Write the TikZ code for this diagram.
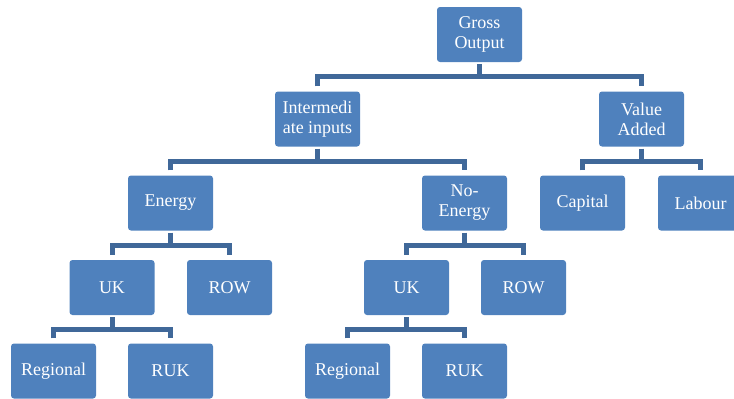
\documentclass[tikz,border=0pt]{standalone}
\usepackage{fontspec}
\setmainfont{Liberation Serif}
\usetikzlibrary{calc}

\definecolor{boxblue}{RGB}{79,129,189}
\definecolor{linkblue}{RGB}{64,104,153}

\begin{document}
\begin{tikzpicture}[x=1pt,y=-1pt,
		every text node part/.style={align=center},
		item/.style={fill=boxblue,text=white,rounded corners=3pt,minimum width=85pt,minimum height=55pt,inner sep=1pt,font=\fontsize{18}{20}\selectfont},
		link/.style={draw=linkblue,line width=5pt}]
		
		\useasboundingbox (0,0) rectangle (734,399);
		
		% top levels
		\node[item] (gross) at (479.5,34.5) {Gross\\Output};
		\node[item] (inter) at (317.5,119) {Intermedi\\ate inputs};
		\node[item] (value) at (641.5,119) {Value\\Added};
		
		\node[item] (energy) at (170.5,203) {Energy};
		\node[item] (noenergy) at (464.5,203) {No-\\Energy};
		\node[item] (capital) at (582.5,203) {Capital};
		\node[item] (labour) at (700.5,203) {Labour};
		
		% origin split
		\node[item] (ukA) at (112,287.5) {UK};
		\node[item] (rowA) at (229.5,287.5) {ROW};
		\node[item] (ukB) at (406.5,287.5) {UK};
		\node[item] (rowB) at (523.5,287.5) {ROW};
		
		\node[item] (regA) at (53.5,371) {Regional};
		\node[item] (rukA) at (170.5,371) {RUK};
		\node[item] (regB) at (347.5,371) {Regional};
		\node[item] (rukB) at (464.5,371) {RUK};
		
		% bars half way between parent and children
		\coordinate (grossbar) at ($(gross.south)!.5!(inter.north)$);
		\coordinate (interbar) at ($(inter.south)!.5!(energy.north)$);
		\coordinate (valuebar) at ($(value.south)!.5!(capital.north)$);
		\coordinate (energybar) at ($(energy.south)!.5!(ukA.north)$);
		\coordinate (noenergybar) at ($(noenergy.south)!.5!(ukB.north)$);
		\coordinate (ukAbar) at ($(ukA.south)!.5!(regA.north)$);
		\coordinate (ukBbar) at ($(ukB.south)!.5!(regB.north)$);
		
		\draw[link] ([yshift=-2pt]gross.south) -- (gross.south |- grossbar);
		\draw[link] ([yshift=5pt]inter.north) |- (grossbar) -| ([yshift=5pt]value.north);
		
		\draw[link] ([yshift=-2pt]inter.south) -- (inter.south |- interbar);
		\draw[link] ([yshift=5pt]energy.north) |- (interbar) -| ([yshift=5pt]noenergy.north);
		
		\draw[link] ([yshift=-2pt]value.south) -- (value.south |- valuebar);
		\draw[link] ([yshift=5pt]capital.north) |- (valuebar) -| ([yshift=5pt]labour.north);
		
		\draw[link] ([yshift=-2pt]energy.south) -- (energy.south |- energybar);
		\draw[link] ([yshift=5pt]ukA.north) |- (energybar) -| ([yshift=5pt]rowA.north);
		
		\draw[link] ([yshift=-2pt]noenergy.south) -- (noenergy.south |- noenergybar);
		\draw[link] ([yshift=5pt]ukB.north) |- (noenergybar) -| ([yshift=5pt]rowB.north);
		
		\draw[link] ([yshift=-2pt]ukA.south) -- (ukA.south |- ukAbar);
		\draw[link] ([yshift=5pt]regA.north) |- (ukAbar) -| ([yshift=5pt]rukA.north);
		
		\draw[link] ([yshift=-2pt]ukB.south) -- (ukB.south |- ukBbar);
		\draw[link] ([yshift=5pt]regB.north) |- (ukBbar) -| ([yshift=5pt]rukB.north);
		
		\end{tikzpicture}
\end{document}
